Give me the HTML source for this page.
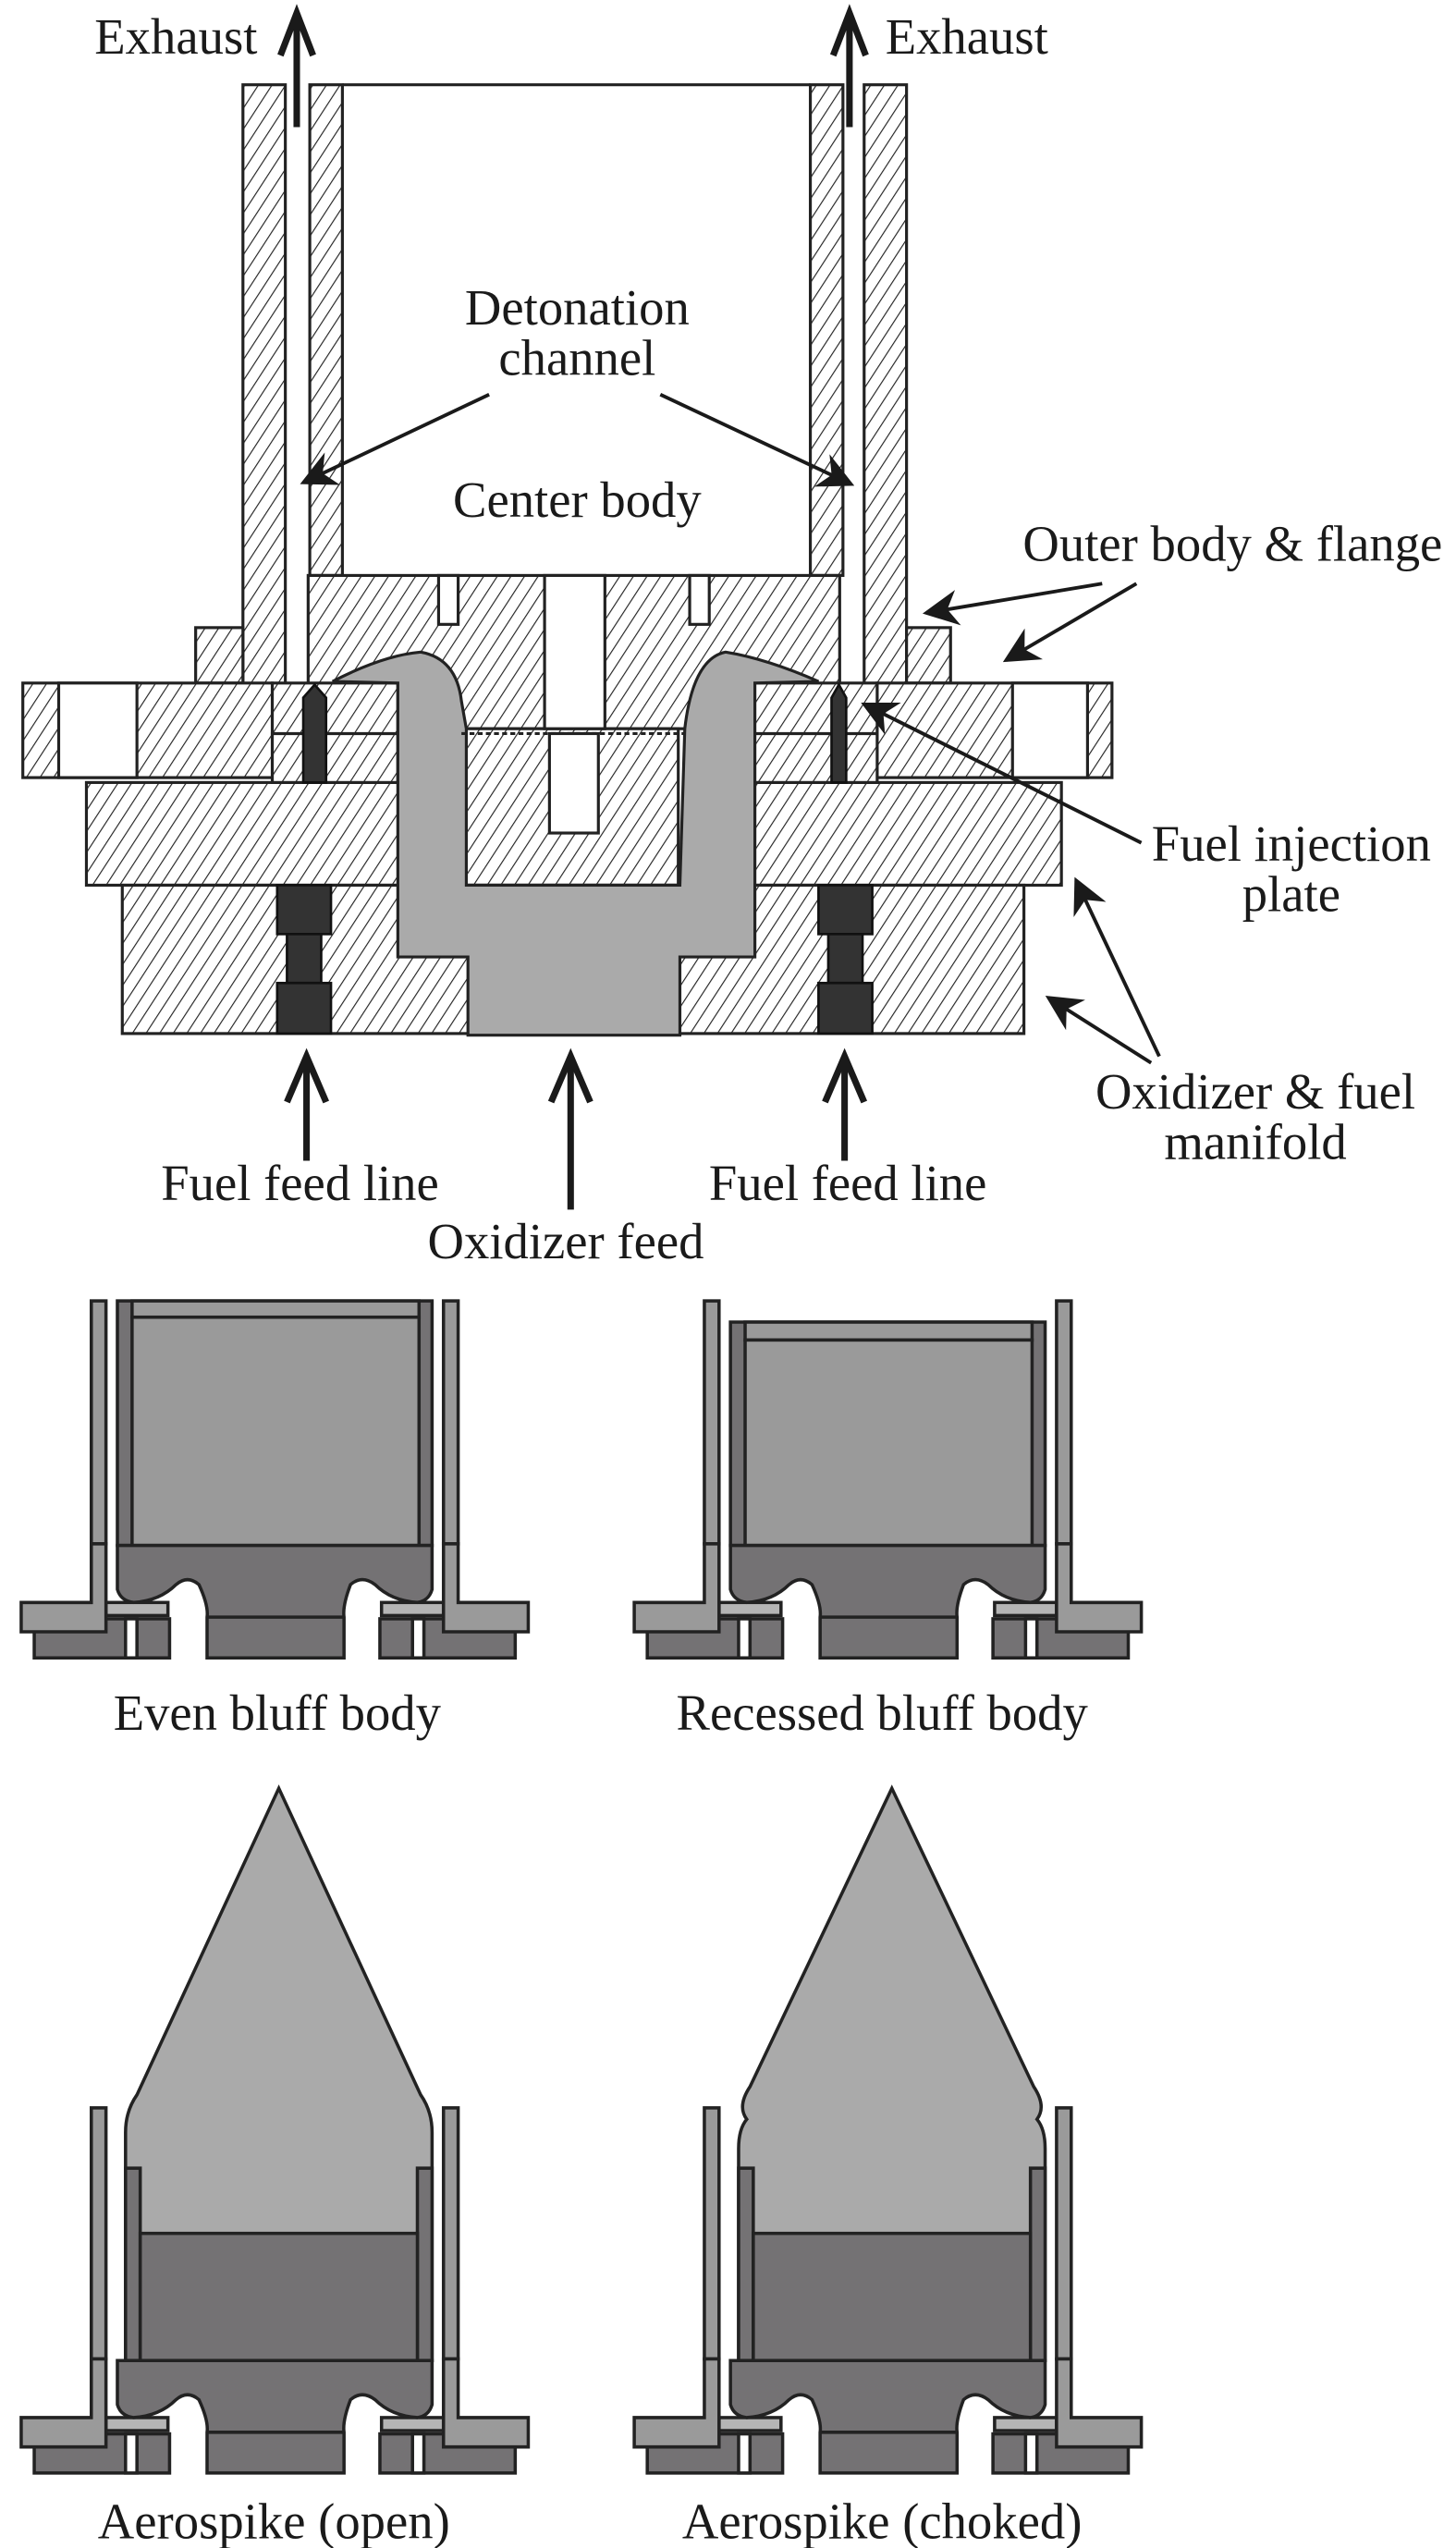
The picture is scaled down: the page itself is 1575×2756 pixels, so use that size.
<!DOCTYPE html>
<html><head><meta charset="utf-8"><style>
html,body{margin:0;padding:0;background:#fff}
svg{display:block}
text{font-family:"Liberation Serif",serif;font-size:31px;fill:#1a1a1a}
</style></head><body>
<svg width="1575" height="2756" viewBox="0 0 893 1563" preserveAspectRatio="none" xmlns="http://www.w3.org/2000/svg">
<defs>
<pattern id="h" patternUnits="userSpaceOnUse" width="7" height="7" patternTransform="rotate(33)">
<rect width="7" height="7" fill="#fff"/><line x1="0" y1="0" x2="0" y2="7" stroke="#222" stroke-width="1.3"/>
</pattern>
<marker id="ah2" viewBox="0 0 10 10" refX="9" refY="5" markerWidth="22" markerHeight="22" orient="auto" markerUnits="userSpaceOnUse">
<path d="M0,0 L10,5 L0,10 L3,5 Z" fill="#1a1a1a"/></marker>
<g id="lower" stroke="#222" stroke-width="2">
<rect x="21" y="993" width="83" height="24" fill="#747274"/>
<rect x="77" y="993" width="7" height="24" fill="#fff"/>
<rect x="65" y="983" width="38" height="8" fill="#b5b5b5"/>
<polygon points="56,947 65,947 65,1001 13,1001 13,983 56,983" fill="#9a9a9a"/>
<rect x="233" y="993" width="83" height="24" fill="#747274"/>
<rect x="253" y="993" width="7" height="24" fill="#fff"/>
<rect x="234" y="983" width="38" height="8" fill="#b5b5b5"/>
<polygon points="281,947 272,947 272,1001 324,1001 324,983 281,983" fill="#9a9a9a"/>
<path d="M72,948 L265,948 L265,975 Q263,982 256,983 Q240,982 230,972 Q222,966 215,972 Q210,985 211,992 L211,1017 L127,1017 L127,992 Q128,985 122,972 Q115,966 108,972 Q98,982 82,983 Q74,982 72,975 Z" fill="#747274"/>
<line x1="127" y1="992" x2="211" y2="992"/>
</g>
</defs>

<!-- ===== TOP DIAGRAM ===== -->
<g stroke="#222" stroke-width="1.8">
<rect x="149" y="52" width="26" height="398" fill="url(#h)"/>
<rect x="530" y="52" width="26" height="398" fill="url(#h)"/>
<rect x="190" y="52" width="20" height="301" fill="url(#h)"/>
<rect x="497" y="52" width="20" height="301" fill="url(#h)"/>
<line x1="210" y1="52" x2="497" y2="52"/>
<rect x="189" y="353" width="326" height="94" fill="url(#h)"/>
<rect x="53" y="480" width="193" height="63" fill="url(#h)"/>
<rect x="461" y="480" width="190" height="63" fill="url(#h)"/>
<rect x="283" y="447" width="133" height="96" fill="url(#h)"/>
<rect x="75" y="543" width="553" height="91" fill="url(#h)"/>
<rect x="120" y="385" width="29" height="34" fill="url(#h)"/>
<rect x="14" y="419" width="153" height="58" fill="url(#h)"/>
<rect x="36" y="419" width="48" height="58" fill="#fff"/>
<rect x="556" y="385" width="27" height="34" fill="url(#h)"/>
<rect x="538" y="419" width="144" height="58" fill="url(#h)"/>
<rect x="621" y="419" width="46" height="58" fill="#fff"/>
<rect x="167" y="450" width="77" height="30" fill="url(#h)"/>
<rect x="461" y="450" width="77" height="30" fill="url(#h)"/>
<rect x="167" y="419" width="77" height="31" fill="url(#h)"/>
<rect x="461" y="419" width="77" height="31" fill="url(#h)"/>
<path d="M204,418 Q235,402 258,400 Q280,404 283,430 L286,447 L286,543 L417,543 L420,447 Q425,404 445,400 Q470,404 502,418 L463,419 L463,587 L417,587 L417,635 L287,635 L287,587 L244,587 L244,419 Z" fill="#aaa"/>
<rect x="269" y="353" width="12" height="30" fill="#fff"/>
<rect x="423" y="353" width="12" height="30" fill="#fff"/>
<rect x="334" y="353" width="37" height="94" fill="#fff"/>
<rect x="337" y="450" width="30" height="61" fill="#fff"/>
<line x1="283" y1="450" x2="420" y2="450" stroke-dasharray="3,2"/>
</g>
<g fill="#333" stroke="#111" stroke-width="1.5">
<polygon points="186,480 186,428 193,420 200,428 200,480"/>
<rect x="170" y="543" width="33" height="30"/>
<rect x="176" y="573" width="21" height="30"/>
<rect x="170" y="603" width="33" height="31"/>
<polygon points="510,480 510,428 514.5,420 519,428 519,480"/>
<rect x="502" y="543" width="33" height="30"/>
<rect x="508" y="573" width="21" height="30"/>
<rect x="502" y="603" width="33" height="31"/>
</g>

<!-- big arrows -->
<g stroke="#1a1a1a" stroke-width="4" fill="none">
<line x1="182" y1="78" x2="182" y2="8"/><polyline points="172,34 182,8 192,34"/>
<line x1="521" y1="78" x2="521" y2="8"/><polyline points="511,34 521,8 531,34"/>
<line x1="188" y1="712" x2="188" y2="648"/><polyline points="176,676 188,648 200,676"/>
<line x1="350" y1="742" x2="350" y2="648"/><polyline points="338,676 350,648 362,676"/>
<line x1="518" y1="712" x2="518" y2="648"/><polyline points="506,676 518,648 530,676"/>
</g>
<!-- label arrows -->
<g stroke="#1a1a1a" stroke-width="2.2" fill="none" marker-end="url(#ah2)">
<line x1="300" y1="242" x2="186" y2="296"/>
<line x1="405" y1="242" x2="522" y2="297"/>
<line x1="676" y1="358" x2="568" y2="376"/>
<line x1="697" y1="358" x2="617" y2="405"/>
<line x1="700" y1="517" x2="530" y2="432"/>
<line x1="711" y1="648" x2="660" y2="540"/>
<line x1="706" y1="652" x2="643" y2="612"/>
</g>

<text x="58" y="33">Exhaust</text>
<text x="543" y="33">Exhaust</text>
<text x="354" y="199" text-anchor="middle">Detonation</text>
<text x="354" y="230" text-anchor="middle">channel</text>
<text x="354" y="317" text-anchor="middle">Center body</text>
<text x="756" y="344" text-anchor="middle">Outer body &amp; flange</text>
<text x="792" y="528" text-anchor="middle">Fuel injection</text>
<text x="792" y="559" text-anchor="middle">plate</text>
<text x="770" y="680" text-anchor="middle">Oxidizer &amp; fuel</text>
<text x="770" y="711" text-anchor="middle">manifold</text>
<text x="184" y="736" text-anchor="middle">Fuel feed line</text>
<text x="520" y="736" text-anchor="middle">Fuel feed line</text>
<text x="347" y="772" text-anchor="middle">Oxidizer feed</text>

<!-- ===== Even bluff body ===== -->
<g stroke="#222" stroke-width="2">
<rect x="56" y="798" width="9" height="149" fill="#9a9a9a"/>
<rect x="272" y="798" width="9" height="149" fill="#9a9a9a"/>
<rect x="72" y="798" width="193" height="150" fill="#747274"/>
<rect x="81" y="798" width="176" height="10" fill="#9a9a9a"/>
<rect x="81" y="808" width="176" height="140" fill="#9a9a9a"/>
</g>
<use href="#lower"/>
<text x="170" y="1061" text-anchor="middle">Even bluff body</text>

<!-- ===== Recessed bluff body ===== -->
<g transform="translate(376,0)">
<g stroke="#222" stroke-width="2">
<rect x="56" y="798" width="9" height="149" fill="#9a9a9a"/>
<rect x="272" y="798" width="9" height="149" fill="#9a9a9a"/>
<rect x="72" y="811" width="193" height="137" fill="#747274"/>
<rect x="81" y="811" width="176" height="11" fill="#9a9a9a"/>
<rect x="81" y="822" width="176" height="126" fill="#9a9a9a"/>
</g>
<use href="#lower"/>
</g>
<text x="541" y="1061" text-anchor="middle">Recessed bluff body</text>

<!-- ===== Aerospike open ===== -->
<g stroke="#222" stroke-width="2">
<rect x="56" y="1293" width="9" height="154" fill="#9a9a9a"/>
<rect x="272" y="1293" width="9" height="154" fill="#9a9a9a"/>
<path d="M77,1448 L77,1308 Q77,1295 84,1285 L171,1097 L258,1285 Q265,1295 265,1308 L265,1448 Z" fill="#aaa"/>
<rect x="77" y="1330" width="9" height="118" fill="#747274"/>
<rect x="256" y="1330" width="9" height="118" fill="#747274"/>
<rect x="86" y="1370" width="170" height="78" fill="#747274"/>
</g>
<use href="#lower" transform="translate(0,500)"/>
<text x="168" y="1557" text-anchor="middle">Aerospike (open)</text>

<!-- ===== Aerospike choked ===== -->
<g transform="translate(376,0)">
<g stroke="#222" stroke-width="2">
<rect x="56" y="1293" width="9" height="154" fill="#9a9a9a"/>
<rect x="272" y="1293" width="9" height="154" fill="#9a9a9a"/>
<path d="M77,1448 L77,1318 Q77,1306 82,1300 Q76,1292 84,1280 L171,1097 L258,1280 Q266,1292 260,1300 Q265,1306 265,1318 L265,1448 Z" fill="#aaa"/>
<rect x="77" y="1330" width="9" height="118" fill="#747274"/>
<rect x="256" y="1330" width="9" height="118" fill="#747274"/>
<rect x="86" y="1370" width="170" height="78" fill="#747274"/>
</g>
<use href="#lower" transform="translate(0,500)"/>
</g>
<text x="541" y="1557" text-anchor="middle">Aerospike (choked)</text>
</svg>
</body></html>
